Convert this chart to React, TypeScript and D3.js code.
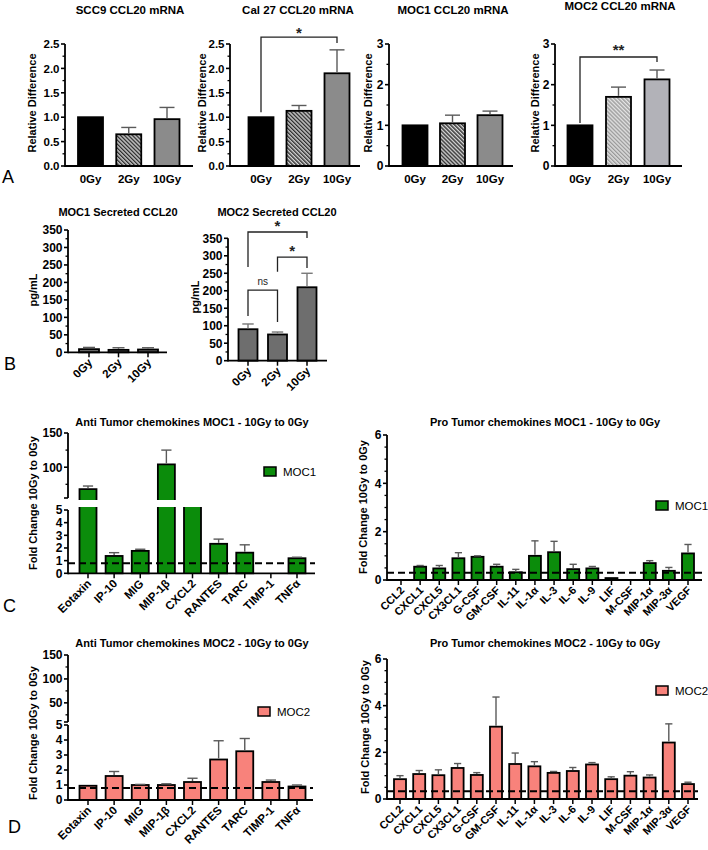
import React from "react";
import * as d3 from "d3";

const FONT = "'Liberation Sans', Arial, Helvetica, sans-serif";

// ---------- DATA ----------
const doseCats = ["0Gy", "2Gy", "10Gy"];
const scc9Values = [1.0, 0.65, 0.96];
const scc9Errors = [0, 0.14, 0.24];
const cal27Values = [1.0, 1.13, 1.9];
const cal27Errors = [0, 0.11, 0.48];
const moc1mValues = [1.0, 1.05, 1.25];
const moc1mErrors = [0, 0.2, 0.1];
const moc2mValues = [1.0, 1.7, 2.13];
const moc2mErrors = [0, 0.24, 0.23];
const moc1sValues = [9, 7, 8];
const moc1sErrors = [5, 6, 5];
const moc2sValues = [90, 75, 210];
const moc2sErrors = [15, 7, 40];

const antiCats = ["Eotaxin", "IP-10", "MIG", "MIP-1β", "CXCL2", "RANTES", "TARC", "TIMP-1", "TNFα"];
const antiMoc1Values = [68, 1.37, 1.77, 104, 20, 2.33, 1.63, 0, 1.19];
const antiMoc1Errors = [4.5, 0.26, 0.13, 21, 0, 0.37, 0.62, 0, 0.08];
const antiMoc2Values = [0.95, 1.6, 1.0, 1.0, 1.2, 2.7, 3.25, 1.2, 0.9];
const antiMoc2Errors = [0, 0.3, 0.04, 0.08, 0.25, 1.25, 0.85, 0.13, 0.1];

const proCats = ["CCL2", "CXCL1", "CXCL5", "CX3CL1", "G-CSF", "GM-CSF", "IL-11", "IL-1α", "IL-3", "IL-6", "IL-9", "LIF", "M-CSF", "MIP-1α", "MIP-3α", "VEGF"];
const proMoc1Values = [0, 0.55, 0.48, 0.9, 0.96, 0.55, 0.32, 1.0, 1.15, 0.45, 0.48, 0.08, 0, 0.7, 0.38, 1.1];
const proMoc1Errors = [0, 0.05, 0.12, 0.23, 0.04, 0.1, 0.12, 0.62, 0.45, 0.2, 0.08, 0, 0, 0.1, 0.14, 0.37];
const proMoc2Values = [0.85, 1.07, 1.02, 1.33, 1.03, 3.1, 1.5, 1.4, 1.12, 1.2, 1.48, 0.85, 1.0, 0.92, 2.42, 0.64];
const proMoc2Errors = [0.15, 0.15, 0.23, 0.19, 0.1, 1.27, 0.47, 0.2, 0.06, 0.15, 0.08, 0.1, 0.17, 0.11, 0.8, 0.08];

const ticksA25 = [0, 0.5, 1, 1.5, 2, 2.5];
const minorA25 = [0.25, 0.75, 1.25, 1.75, 2.25];
const ticksA3 = [0, 1, 2, 3];
const minorA3 = [0.5, 1.5, 2.5];
const ticksB = [0, 50, 100, 150, 200, 250, 300, 350];
const minorB = [25, 75, 125, 175, 225, 275, 325];
const ticksLower = [0, 1, 2, 3, 4, 5];
const ticksUpperC = [100, 150];
const minorUpperC = [75, 125];
const ticksUpperD = [50, 100, 150];
const minorUpperD = [25, 75, 125];
const ticksPro = [0, 2, 4, 6];
const minorPro = [0.5, 1, 1.5, 2.5, 3, 3.5, 4.5, 5, 5.5];

// significance annotations (data units; ly = label baseline)
const cal27Brackets = [{ from: "0Gy", to: "10Gy", h: 2.64, l: 1.1, r: 2.52, label: "*", ly: 2.62, size: 15 }];
const moc2mBrackets = [{ from: "0Gy", to: "10Gy", h: 2.68, l: 1.06, r: 2.56, label: "**", ly: 2.72, size: 15 }];
const moc2sBrackets = [
  { from: "0Gy", to: "10Gy", h: 368, l: 268, r: 351, label: "*", ly: 372, size: 15 },
  { from: "2Gy", to: "10Gy", h: 296, l: 254, r: 265, label: "*", ly: 300, size: 15 },
  { from: "0Gy", to: "2Gy", h: 202, l: 128, r: 111, label: "ns", ly: 226, size: 10 },
];

// ---------- STYLE ----------
const BLACK = "#000";
const GRAY10 = "#8b8b8b";
const GRAY10L = "#b2b2b8";
const GRAYB = "#6e6e6e";
const GREEN = "#0b8c0b";
const SALMON = "#f8827b";
const ERR = "#5a5a5a";

function xBand(cats: string[], c0: number, c1: number, bw: number) {
  const step = (c1 - c0) / (cats.length - 1);
  const p = 1 - bw / step;
  return d3
    .scaleBand()
    .domain(cats)
    .range([c0 - step / 2, c1 + step / 2])
    .paddingInner(p)
    .paddingOuter(p / 2);
}

type Bracket = { from: string; to: string; h: number; l: number; r: number; label: string; ly: number; size: number };

type PanelProps = {
  cats: string[];
  values: number[];
  errors: number[];
  fills: string[];
  axisX: number;
  axisEnd: number;
  c0: number;
  c1: number;
  bw: number;
  domain: [number, number];
  range: [number, number];
  major: number[];
  minor: number[];
  fmt?: (d: number) => string;
  xTicks?: boolean;
  rotate?: boolean;
  xLabelSize?: number;
  xLabelY?: number;
  tickFont?: number;
  dashed?: number;
  brackets?: Bracket[];
  errColor?: string;
};

function YTicks({ x, y, major, minor, fmt, font }: any) {
  return (
    <g>
      {major.map((t: number) => (
        <g key={"M" + t}>
          <line x1={x - 4} x2={x} y1={y(t)} y2={y(t)} stroke={BLACK} strokeWidth={1.6} />
          <text x={x - 5.5} y={y(t)} dy="0.36em" textAnchor="end" fontSize={font} fontWeight="bold" fontFamily={FONT}>
            {fmt(t)}
          </text>
        </g>
      ))}
      {minor.map((t: number) => (
        <line key={"m" + t} x1={x - 2.5} x2={x} y1={y(t)} y2={y(t)} stroke={BLACK} strokeWidth={1.3} />
      ))}
    </g>
  );
}

function XLabels({ x, cats, axisY, rotate, size, labelY, ticks }: any) {
  return (
    <g>
      {cats.map((c: string) => {
        const cx = x(c)! + x.bandwidth() / 2;
        return (
          <g key={c}>
            {ticks && <line x1={cx} x2={cx} y1={axisY} y2={axisY + 5} stroke={BLACK} strokeWidth={1.5} />}
            {rotate ? (
              <text
                transform={`translate(${cx + 4},${axisY + 11}) rotate(-45)`}
                textAnchor="end"
                fontSize={size}
                fontWeight="bold"
                fontFamily={FONT}
              >
                {c}
              </text>
            ) : (
              <text x={cx} y={labelY} textAnchor="middle" fontSize={size} fontWeight="bold" fontFamily={FONT}>
                {c}
              </text>
            )}
          </g>
        );
      })}
    </g>
  );
}

function Panel(p: PanelProps) {
  const x = xBand(p.cats, p.c0, p.c1, p.bw);
  const y = d3.scaleLinear().domain(p.domain).range(p.range);
  const y0 = y(p.domain[0]);
  const fmt = p.fmt ?? ((d: number) => String(d));
  const bw = x.bandwidth();
  const cx = (c: string) => x(c)! + bw / 2;
  return (
    <g>
      {p.values.map((v, i) => {
        if (v <= 0) return null;
        const top = y(v);
        return (
          <rect key={"b" + i} x={x(p.cats[i])} y={top} width={bw} height={y0 - top} fill={p.fills[i]} stroke={BLACK} strokeWidth={1.8} />
        );
      })}
      {p.values.map((v, i) => {
        const e = p.errors[i];
        if (!e) return null;
        const c = cx(p.cats[i]);
        const cw = bw * 0.3;
        return (
          <g key={"e" + i} stroke={p.errColor ?? ERR} strokeWidth={1.4}>
            <line x1={c} x2={c} y1={y(v) - 1} y2={y(v + e)} />
            <line x1={c - cw} x2={c + cw} y1={y(v + e)} y2={y(v + e)} />
          </g>
        );
      })}
      {p.dashed !== undefined && (
        <line x1={p.axisX} x2={p.axisEnd} y1={y(p.dashed)} y2={y(p.dashed)} stroke={BLACK} strokeWidth={2} strokeDasharray="7,4" />
      )}
      <line x1={p.axisX} x2={p.axisX} y1={y0 + 0.9} y2={y(p.domain[1])} stroke={BLACK} strokeWidth={1.8} />
      <line x1={p.axisX} x2={p.axisEnd} y1={y0} y2={y0} stroke={BLACK} strokeWidth={1.8} />
      <YTicks x={p.axisX} y={y} major={p.major} minor={p.minor} fmt={fmt} font={p.tickFont ?? 12} />
      <XLabels x={x} cats={p.cats} axisY={y0} rotate={p.rotate} size={p.xLabelSize ?? 11.5} labelY={p.xLabelY} ticks={p.xTicks} />
      {(p.brackets ?? []).map((b, i) => {
        const xa = cx(b.from);
        const xb = cx(b.to);
        return (
          <g key={"k" + i}>
            <path d={`M${xa},${y(b.l)}V${y(b.h)}H${xb}V${y(b.r)}`} fill="none" stroke="#222" strokeWidth={1.3} />
            <text
              x={(xa + xb) / 2}
              y={y(b.ly)}
              dy={b.label === "ns" ? "0.35em" : "0"}
              textAnchor="middle"
              fontSize={b.size}
              fontWeight={b.label === "ns" ? "normal" : "bold"}
              fontFamily={FONT}
              fill="#222"
            >
              {b.label}
            </text>
          </g>
        );
      })}
    </g>
  );
}

type BrokenProps = {
  cats: string[];
  values: number[];
  errors: number[];
  fill: string;
  axisX: number;
  axisEnd: number;
  c0: number;
  c1: number;
  bw: number;
  y0: number;
  lowerTopPx: number;
  lowerMax: number;
  upperDomain: [number, number];
  upperRange: [number, number];
  upperMajor: number[];
  upperMinor: number[];
  dashed: number;
};

function BrokenPanel(p: BrokenProps) {
  const x = xBand(p.cats, p.c0, p.c1, p.bw);
  const yL = d3.scaleLinear().domain([0, p.lowerMax]).range([p.y0, p.lowerTopPx]);
  const yU = d3.scaleLinear().domain(p.upperDomain).range(p.upperRange);
  const bw = x.bandwidth();
  const cx = (c: string) => x(c)! + bw / 2;
  const fmt = (d: number) => String(d);
  const cutTop = yL(p.lowerMax) - 3;
  const upBottom = yU(p.upperDomain[0]) + 2;
  return (
    <g>
      {p.values.map((v, i) => {
        if (v <= 0) return null;
        const bx = x(p.cats[i])!;
        if (v <= p.lowerMax) {
          return <rect key={"b" + i} x={bx} y={yL(v)} width={bw} height={p.y0 - yL(v)} fill={p.fill} stroke={BLACK} strokeWidth={1.8} />;
        }
        const parts = [
          <rect key="lf" x={bx} y={cutTop} width={bw} height={p.y0 - cutTop} fill={p.fill} />,
          <path key="ls" d={`M${bx},${cutTop}V${p.y0}M${bx + bw},${cutTop}V${p.y0}`} stroke={BLACK} strokeWidth={1.8} />,
        ];
        if (v > p.upperDomain[0]) {
          const t = yU(v);
          parts.push(<rect key="uf" x={bx} y={t} width={bw} height={upBottom - t} fill={p.fill} />);
          parts.push(
            <path key="us" d={`M${bx},${upBottom}V${t}H${bx + bw}V${upBottom}`} fill="none" stroke={BLACK} strokeWidth={1.8} />
          );
        }
        return <g key={"b" + i}>{parts}</g>;
      })}
      {p.values.map((v, i) => {
        const e = p.errors[i];
        if (!e) return null;
        const c = cx(p.cats[i]);
        const y = v > p.lowerMax ? yU : yL;
        const cw = bw * 0.3;
        return (
          <g key={"e" + i} stroke={ERR} strokeWidth={1.4}>
            <line x1={c} x2={c} y1={y(v) - 1} y2={y(v + e)} />
            <line x1={c - cw} x2={c + cw} y1={y(v + e)} y2={y(v + e)} />
          </g>
        );
      })}
      <line x1={p.axisX} x2={p.axisEnd} y1={yL(p.dashed)} y2={yL(p.dashed)} stroke={BLACK} strokeWidth={2} strokeDasharray="7,4" />
      <line x1={p.axisX} x2={p.axisX} y1={p.y0 + 0.9} y2={yL(p.lowerMax)} stroke={BLACK} strokeWidth={1.8} />
      <line x1={p.axisX} x2={p.axisX} y1={yU(p.upperDomain[0])} y2={yU(p.upperDomain[1])} stroke={BLACK} strokeWidth={1.8} />
      <line x1={p.axisX - 4} x2={p.axisX} y1={yU(p.upperDomain[0])} y2={yU(p.upperDomain[0])} stroke={BLACK} strokeWidth={1.6} />
      <line x1={p.axisX} x2={p.axisEnd} y1={p.y0} y2={p.y0} stroke={BLACK} strokeWidth={1.8} />
      <YTicks x={p.axisX} y={yL} major={ticksLower} minor={[]} fmt={fmt} font={12} />
      <YTicks x={p.axisX} y={yU} major={p.upperMajor} minor={p.upperMinor} fmt={fmt} font={12} />
      <XLabels x={x} cats={p.cats} axisY={p.y0} rotate size={11.5} ticks />
    </g>
  );
}

function Title({ x, y, text, size = 11.5 }: { x: number; y: number; text: string; size?: number }) {
  return (
    <text x={x} y={y} textAnchor="middle" fontSize={size} fontWeight="bold" fontFamily={FONT}>
      {text}
    </text>
  );
}

function YLabel({ x, y, text, size = 11 }: { x: number; y: number; text: string; size?: number }) {
  return (
    <text transform={`translate(${x},${y}) rotate(-90)`} textAnchor="middle" fontSize={size} fontWeight="bold" fontFamily={FONT}>
      {text}
    </text>
  );
}

function Legend({ x, y, fill, label }: { x: number; y: number; fill: string; label: string }) {
  return (
    <g>
      <rect x={x} y={y} width={12} height={9} fill={fill} stroke={BLACK} strokeWidth={1.5} />
      <text x={x + 19} y={y + 8.5} fontSize={11.5} fontFamily={FONT}>
        {label}
      </text>
    </g>
  );
}

function Letter({ x, y, t }: { x: number; y: number; t: string }) {
  return (
    <text x={x} y={y} fontSize={18} fontFamily={FONT}>
      {t}
    </text>
  );
}

export default function App() {
  const fA = (d: number) => d.toFixed(1);
  const fillsA = [BLACK, "url(#hatchDark)", GRAY10];
  const fillsA4 = [BLACK, "url(#hatchLight)", GRAY10L];
  return (
    <div style={{ position: "absolute", left: 0, top: 0 }}>
      <svg width={708} height={850} viewBox="0 0 708 850" style={{ display: "block", background: "#fff" }}>
        <defs>
          <pattern id="hatchDark" patternUnits="userSpaceOnUse" width={2.8} height={2.8} patternTransform="rotate(-45)">
            <rect width={2.8} height={2.8} fill="#d6d6d6" />
            <rect width={1.4} height={2.8} fill="#2e2e2e" />
          </pattern>
          <pattern id="hatchLight" patternUnits="userSpaceOnUse" width={2.8} height={2.8} patternTransform="rotate(-45)">
            <rect width={2.8} height={2.8} fill="#e4e4e4" />
            <rect width={1.4} height={2.8} fill="#9a9a9a" />
          </pattern>
        </defs>
        <rect width={708} height={850} fill="#fff" />

        {/* Row A */}
        <Title x={130} y={14} text="SCC9 CCL20 mRNA" />
        <YLabel x={36} y={103} text="Relative Difference" />
        <Panel cats={doseCats} values={scc9Values} errors={scc9Errors} fills={fillsA} axisX={65} axisEnd={193} c0={90.5} c1={167} bw={25}
          domain={[0, 2.5]} range={[166, 44]} major={ticksA25} minor={minorA25} fmt={fA} xLabelY={183} tickFont={11.5} />

        <Title x={298} y={14} text="Cal 27 CCL20 mRNA" />
        <YLabel x={206} y={103} text="Relative Difference" />
        <Panel cats={doseCats} values={cal27Values} errors={cal27Errors} fills={fillsA} axisX={230} axisEnd={360} c0={261} c1={337} bw={25}
          domain={[0, 2.5]} range={[166, 44]} major={ticksA25} minor={minorA25} fmt={fA} xLabelY={183} tickFont={11.5} brackets={cal27Brackets} />

        <Title x={453} y={14} text="MOC1 CCL20 mRNA" />
        <YLabel x={372} y={103} text="Relative Difference" />
        <Panel cats={doseCats} values={moc1mValues} errors={moc1mErrors} fills={fillsA} axisX={389} axisEnd={513} c0={415} c1={490} bw={25}
          domain={[0, 3]} range={[166, 44]} major={ticksA3} minor={minorA3} xLabelY={183} />

        <Title x={620} y={10} text="MOC2 CCL20 mRNA" />
        <YLabel x={539} y={103} text="Relative Difference" />
        <Panel cats={doseCats} values={moc2mValues} errors={moc2mErrors} fills={fillsA4} axisX={555} axisEnd={682} c0={580} c1={657} bw={25}
          domain={[0, 3]} range={[166, 44]} major={ticksA3} minor={minorA3} xLabelY={183} brackets={moc2mBrackets} />
        <Letter x={2} y={183} t="A" />

        {/* Row B */}
        <Title x={118} y={216} text="MOC1 Secreted CCL20" size={11} />
        <YLabel x={37} y={290} text="pg/mL" />
        <Panel cats={doseCats} values={moc1sValues} errors={moc1sErrors} fills={[GRAYB, GRAYB, GRAYB]} axisX={68} axisEnd={167} c0={89} c1={148} bw={20}
          domain={[0, 350]} range={[352.3, 230]} major={ticksB} minor={minorB} xTicks rotate xLabelSize={11.5} />

        <Title x={277} y={216} text="MOC2 Secreted CCL20" size={11} />
        <YLabel x={199} y={297} text="pg/mL" />
        <Panel cats={doseCats} values={moc2sValues} errors={moc2sErrors} fills={[GRAYB, GRAYB, GRAYB]} axisX={228} axisEnd={327} c0={248} c1={307} bw={19}
          domain={[0, 350]} range={[360.7, 238.3]} major={ticksB} minor={minorB} xTicks rotate xLabelSize={11.5} brackets={moc2sBrackets} errColor="#777" />
        <Letter x={4} y={370} t="B" />

        {/* Row C */}
        <Title x={192} y={426} text="Anti Tumor chemokines MOC1 - 10Gy to 0Gy" size={11} />
        <YLabel x={37} y={503} text="Fold Change 10Gy to 0Gy" />
        <BrokenPanel cats={antiCats} values={antiMoc1Values} errors={antiMoc1Errors} fill={GREEN} axisX={68} axisEnd={315} c0={88} c1={297} bw={17}
          y0={573.3} lowerTopPx={510} lowerMax={5} upperDomain={[55, 150]} upperRange={[498, 433]} upperMajor={ticksUpperC} upperMinor={minorUpperC} dashed={0.8} />
        <Legend x={264} y={467} fill={GREEN} label="MOC1" />

        <Title x={545} y={426} text="Pro Tumor chemokines MOC1 - 10Gy to 0Gy" size={11} />
        <YLabel x={367} y={507} text="Fold Change 10Gy to 0Gy" />
        <Panel cats={proCats} values={proMoc1Values} errors={proMoc1Errors} fills={proCats.map(() => GREEN)} axisX={387} axisEnd={702} c0={401} c1={688} bw={12}
          domain={[0, 6]} range={[580, 435]} major={ticksPro} minor={minorPro} xTicks rotate xLabelSize={11} dashed={0.3} />
        <Legend x={656} y={501} fill={GREEN} label="MOC1" />
        <Letter x={3} y={612} t="C" />

        {/* Row D */}
        <Title x={192} y={647} text="Anti Tumor chemokines MOC2 - 10Gy to 0Gy" size={11} />
        <YLabel x={37} y={733} text="Fold Change 10Gy to 0Gy" />
        <BrokenPanel cats={antiCats} values={antiMoc2Values} errors={antiMoc2Errors} fill={SALMON} axisX={68} axisEnd={313} c0={88} c1={297} bw={17}
          y0={800} lowerTopPx={725} lowerMax={5} upperDomain={[10, 150]} upperRange={[722, 655]} upperMajor={ticksUpperD} upperMinor={minorUpperD} dashed={0.8} />
        <Legend x={258} y={707} fill={SALMON} label="MOC2" />

        <Title x={545} y={647} text="Pro Tumor chemokines MOC2 - 10Gy to 0Gy" size={11} />
        <YLabel x={369} y={727} text="Fold Change 10Gy to 0Gy" />
        <Panel cats={proCats} values={proMoc2Values} errors={proMoc2Errors} fills={proCats.map(() => SALMON)} axisX={387} axisEnd={698} c0={400} c1={688} bw={12}
          domain={[0, 6]} range={[799, 659]} major={ticksPro} minor={minorPro} xTicks rotate xLabelSize={11} dashed={0.33} />
        <Legend x={656} y={686} fill={SALMON} label="MOC2" />
        <Letter x={8} y={833} t="D" />
      </svg>
    </div>
  );
}
